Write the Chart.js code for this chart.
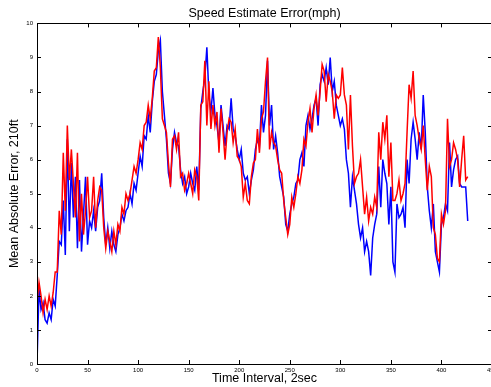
<!doctype html>
<html>

<head>
  <meta charset="utf-8">
  <script src="https://cdn.jsdelivr.net/npm/chart.js@4.4.0/dist/chart.umd.min.js"></script>
  <style>
    html, body { margin: 0; padding: 0; background: #fff; overflow: hidden; }
    canvas { display: block; background: #fff; }
  </style>
</head>

<body>
  <canvas id="chart" width="500" height="387"></canvas>
  <script>
    // mean absolute error, sampled every 2nd time interval (0..426)
    const blueErr = [
      0.0, 2.2, 1.6, 1.8, 1.3, 1.2, 1.5, 1.3, 1.9, 1.7,
      2.6, 3.6, 3.5, 4.8, 3.2, 6.6, 3.9, 5.9, 4.3, 5.5,
      3.4, 5.4, 3.3, 4.4, 5.5, 3.5, 4.2, 4.0, 4.5, 3.9,
      4.6, 4.8, 5.6, 4.3, 3.5, 4.0, 3.4, 3.9, 3.5, 3.3,
      3.8, 4.0, 4.4, 4.2, 4.5, 4.6, 5.0, 4.7, 5.3, 5.1,
      5.6, 6.1, 5.8, 6.7, 6.6, 7.3, 6.8, 7.7, 8.3, 8.5,
      9.2, 9.5, 8.0, 7.3, 6.6, 5.6, 5.3, 6.3, 6.8, 6.5,
      6.4, 5.7, 5.3, 5.5, 5.0, 5.2, 5.6, 5.3, 5.1, 5.8,
      5.1, 7.5, 8.0, 8.4, 9.3, 7.9, 7.4, 8.1, 7.3, 7.0,
      6.5, 7.6, 7.0, 6.4, 7.0, 6.9, 7.8, 6.9, 6.7, 6.3,
      6.0, 6.3, 5.6, 5.4, 5.5, 5.0, 5.4, 5.7, 6.3, 6.6,
      6.4, 7.6, 6.8, 7.3, 8.9, 7.0, 7.6, 6.3, 6.7, 6.2,
      5.5, 5.2, 4.9, 4.1, 3.9, 4.4, 4.7, 4.9, 5.3, 5.4,
      6.0, 6.2, 5.8, 7.0, 7.3, 6.9, 7.2, 7.6, 7.8, 7.0,
      8.2, 8.5, 8.3, 8.7, 8.2, 9.0, 8.0, 8.3, 7.6, 7.3,
      7.0, 7.2, 6.9, 6.0, 5.6, 4.6, 5.5, 5.1, 4.7, 4.1,
      3.7, 4.0, 3.3, 3.6, 3.3, 2.6, 3.7, 4.1, 4.4, 5.8,
      4.6, 6.0, 5.6, 5.3, 4.1, 5.2, 3.0, 2.7, 4.7, 4.3,
      4.4, 4.6, 4.0, 6.0, 5.3, 6.6, 7.1, 6.6, 6.0, 6.8,
      6.3, 7.9, 6.8, 5.2, 4.5, 4.0, 4.7, 3.3, 3.0, 2.7,
      4.1, 4.3, 4.7, 4.5, 6.5, 5.2, 5.7, 6.0, 6.1, 5.3,
      5.2, 5.2, 5.2, 4.2
    ];
    const redErr = [
      1.8, 2.4, 2.0, 1.5, 1.9, 1.6, 2.0, 1.7, 2.1, 2.7,
      2.7, 4.5, 3.8, 6.2, 4.5, 7.0, 5.4, 6.3, 5.3, 4.3,
      6.2, 3.6, 5.0, 3.8, 4.5, 5.5, 4.3, 4.5, 5.5, 4.0,
      4.8, 5.2, 5.1, 4.0, 3.4, 3.9, 3.6, 3.3, 3.9, 3.5,
      4.1, 3.9, 4.6, 4.4, 5.0, 4.8, 5.0, 5.4, 5.8, 5.6,
      6.0, 6.5, 6.3, 7.0, 7.1, 7.6, 7.2, 7.8, 8.6, 8.7,
      9.6, 8.7, 7.2, 7.0, 6.8, 5.9, 5.2, 6.6, 6.7, 6.3,
      6.8, 5.5, 5.6, 5.1, 5.3, 5.6, 5.3, 5.0, 5.7, 5.5,
      4.8, 7.6, 7.7, 8.9, 7.0, 8.3, 6.9, 7.6, 7.0, 7.4,
      6.2, 7.5, 6.8, 6.0, 6.8, 7.2, 7.1, 6.5, 6.9, 6.1,
      6.0, 5.8, 4.9, 5.3, 4.8, 4.7, 5.5, 5.9, 6.0, 6.9,
      6.2, 7.2, 7.4, 8.3, 9.0, 6.3, 6.8, 6.5, 6.4, 6.0,
      5.7, 5.6, 4.8, 4.3, 3.8, 4.1, 4.9, 4.6, 5.0, 5.5,
      5.3, 5.7, 6.6, 6.4, 7.1, 7.5, 6.8, 7.5, 7.9, 7.3,
      8.0, 8.8, 8.6, 7.7, 8.5, 8.3, 8.0, 7.2, 7.9, 7.8,
      7.9, 8.7, 7.9, 7.6, 6.3, 7.9, 6.4, 5.3, 5.5, 5.6,
      6.0, 5.2, 4.4, 4.9, 4.2, 4.6, 4.4, 4.9, 4.6, 6.8,
      6.0, 7.1, 6.6, 7.3, 5.5, 6.5, 4.8, 4.8, 5.0, 5.4,
      4.8, 5.0, 5.3, 6.8, 8.2, 7.8, 8.6, 7.3, 7.0, 6.6,
      6.3, 7.0, 6.0, 5.1, 5.8, 5.5, 4.0, 3.8, 3.1, 3.0,
      4.4, 4.1, 4.5, 7.2, 5.8, 6.0, 6.5, 6.3, 6.0, 5.2,
      6.0, 6.7, 5.4, 5.5
    ];
    const timeIdx = blueErr.map((_, i) => i * 2);
    const xTicks = [0, 50, 100, 150, 200, 250, 300, 350, 400, 450];
    const yTicks = [0, 1, 2, 3, 4, 5, 6, 7, 8, 9, 10];

    const FONT = '"Liberation Sans", Arial, Helvetica, sans-serif';

    function toPoints(vals) {
      return vals.map((v, i) => ({ x: timeIdx[i], y: v }));
    }

    // matlab style box with ticks pointing inward
    const boxPlugin = {
      id: 'matlab_box',
      afterDraw: (chart) => {
        const c = chart.ctx;
        const a = chart.chartArea;
        const sx = chart.scales.x, sy = chart.scales.y;
        const len = 4;
        c.save();
        c.strokeStyle = '#000';
        c.lineWidth = 1;
        c.beginPath();
        c.rect(Math.round(a.left) + 0.5, Math.round(a.top) + 0.5,
          Math.round(a.right - a.left), Math.round(a.bottom - a.top));
        xTicks.forEach(t => {
          const px = Math.round(sx.getPixelForValue(t)) + 0.5;
          c.moveTo(px, a.bottom); c.lineTo(px, a.bottom - len);
          c.moveTo(px, a.top); c.lineTo(px, a.top + len);
        });
        yTicks.forEach(t => {
          const py = Math.round(sy.getPixelForValue(t)) + 0.5;
          c.moveTo(a.left, py); c.lineTo(a.left + len, py);
          c.moveTo(a.right, py); c.lineTo(a.right - len, py);
        });
        c.stroke();
        c.restore();
      }
    };

    const ctx = document.getElementById('chart').getContext('2d');
    const chart = new Chart(ctx, {
      type: 'line',
      data: {
        datasets: [{
          label: 'blue',
          data: toPoints(blueErr),
          borderColor: '#0000ff',
          borderWidth: 1.5,
          pointRadius: 0,
          tension: 0,
          order: 2
        }, {
          label: 'red',
          data: toPoints(redErr),
          borderColor: '#ff0000',
          borderWidth: 1.5,
          pointRadius: 0,
          tension: 0,
          order: 1
        }]
      },
      options: {
        responsive: false,
        animation: false,
        layout: { padding: { left: 0, right: 6, top: 0, bottom: 0 } },
        plugins: {
          legend: { display: false },
          tooltip: { enabled: false },
          title: {
            display: true,
            fullSize: false,
            text: 'Speed Estimate Error(mph)',
            color: '#000',
            font: { family: FONT, size: 12.5, weight: 'normal' },
            padding: { top: 6, bottom: 2.4 }
          }
        },
        scales: {
          x: {
            type: 'linear',
            min: 0,
            max: 450,
            afterFit: (s) => { s.height = 23; },
            afterBuildTicks: (s) => { s.ticks = xTicks.map(v => ({ value: v })); },
            ticks: { color: '#000', font: { family: FONT, size: 6 }, padding: 3, maxRotation: 0, autoSkip: false },
            grid: { display: false, drawTicks: false },
            border: { display: false },
            title: {
              display: true,
              text: 'Time Interval, 2sec',
              color: '#000',
              font: { family: FONT, size: 12.5 },
              padding: { top: 0, bottom: 1 }
            }
          },
          y: {
            min: 0,
            max: 10,
            afterFit: (s) => { s.width = 37; },
            afterBuildTicks: (s) => { s.ticks = yTicks.map(v => ({ value: v })); },
            ticks: { color: '#000', font: { family: FONT, size: 6 }, padding: 4, autoSkip: false },
            grid: { display: false, drawTicks: false },
            border: { display: false },
            title: {
              display: true,
              text: 'Mean Absolute Error, 210ft',
              color: '#000',
              font: { family: FONT, size: 12.5 },
              padding: { top: 7, bottom: 0 }
            }
          }
        }
      },
      plugins: [boxPlugin]
    });
  </script>
</body>

</html>
